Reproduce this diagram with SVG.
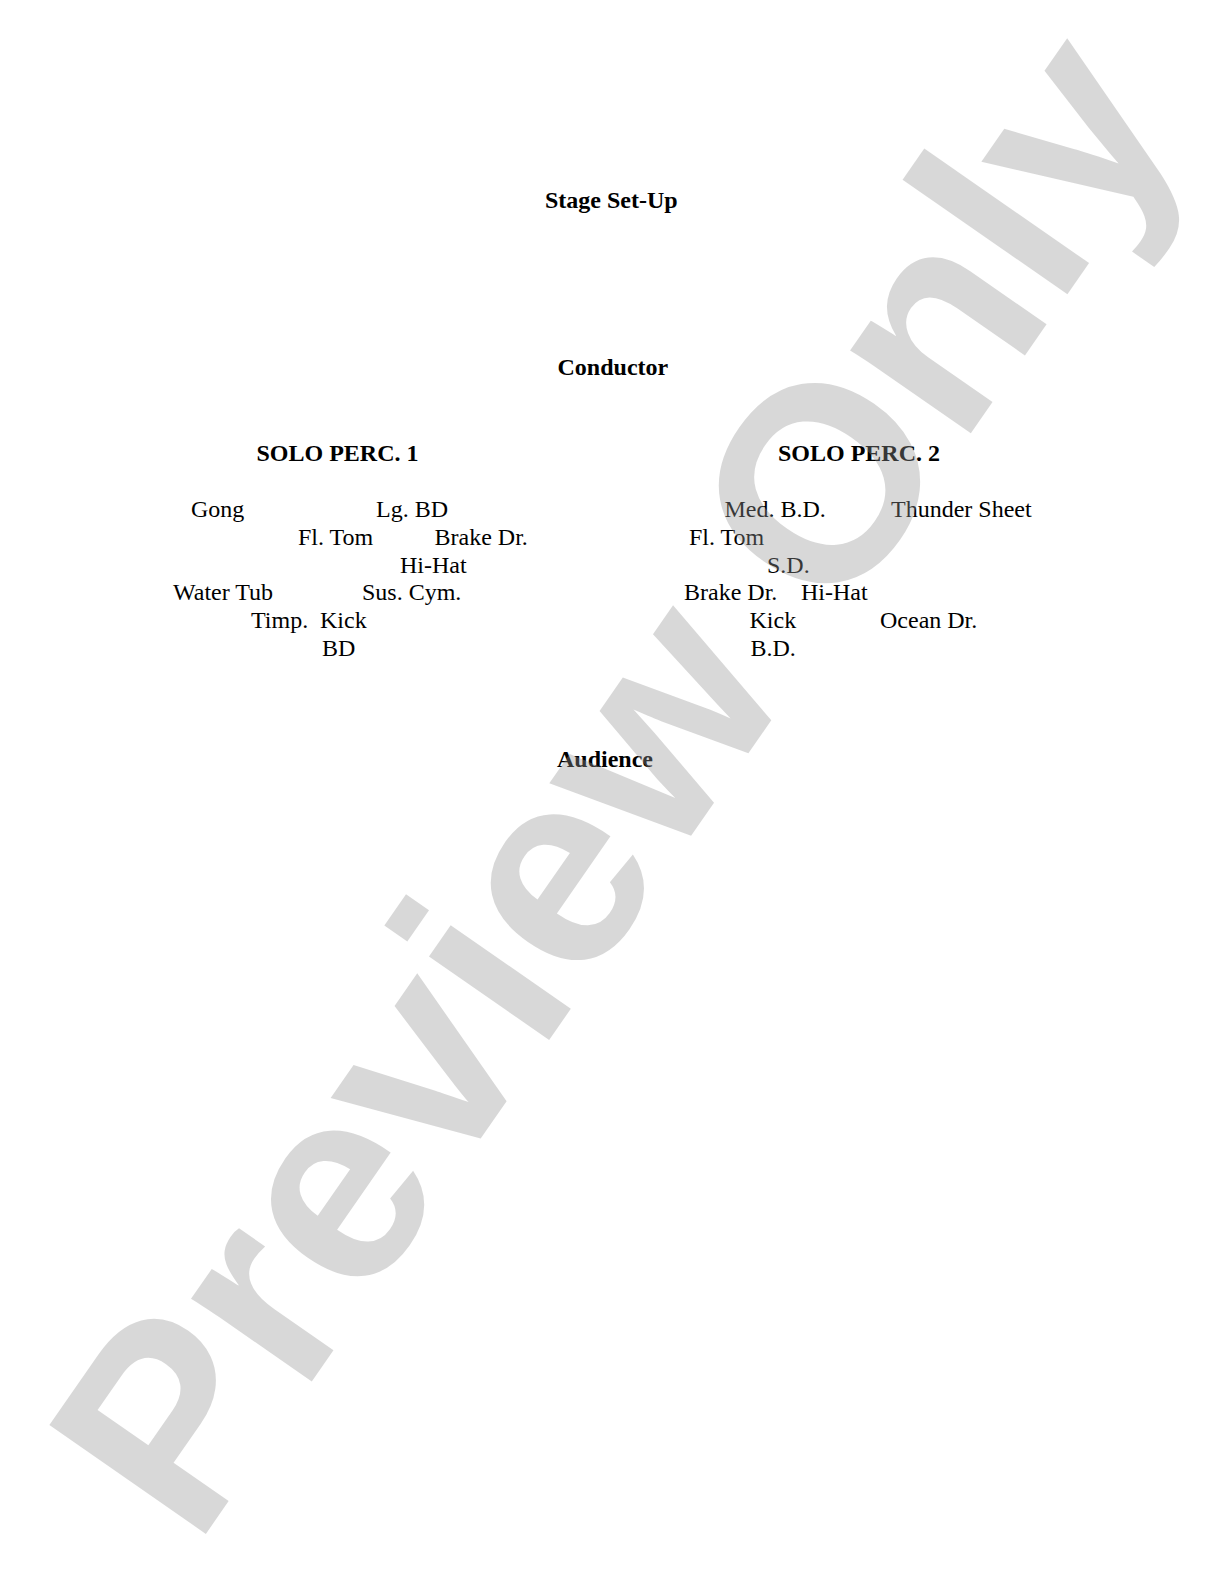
<svg xmlns="http://www.w3.org/2000/svg" width="1224" height="1584" viewBox="0 0 1224 1584">
  <style>
    .h { font-family: "Liberation Serif", "Times New Roman", serif; font-size: 24px; font-weight: bold; fill: #000; }
    .t { font-family: "Liberation Serif", "Times New Roman", serif; font-size: 24px; fill: #000; }
    .wm { font-family: "Liberation Sans", Arial, sans-serif; font-size: 277px; font-weight: bold; fill: rgb(150,150,150); fill-opacity: 0.37; }
  </style>
  <rect x="0" y="0" width="1224" height="1584" fill="#fff"/>
  <g id="title"><text class="h" x="545" y="208">Stage Set-Up</text></g>
  <g id="conductor"><text class="h" x="557.5" y="375">Conductor</text></g>
  <g id="solo-perc-1">
    <text class="h" x="256.5" y="460.5">SOLO PERC. 1</text>
    <g id="p1-gong"><text class="t" x="191" y="517">Gong</text></g>
    <g id="p1-lg-bd"><text class="t" x="376" y="517">Lg. BD</text></g>
    <g id="p1-fl-tom"><text class="t" x="298" y="545">Fl. Tom</text></g>
    <g id="p1-brake-dr"><text class="t" x="434.5" y="545">Brake Dr.</text></g>
    <g id="p1-hi-hat"><text class="t" x="400" y="572.5">Hi-Hat</text></g>
    <g id="p1-water-tub"><text class="t" x="173" y="600">Water Tub</text></g>
    <g id="p1-sus-cym"><text class="t" x="362" y="600">Sus. Cym.</text></g>
    <g id="p1-timp"><text class="t" x="251" y="628">Timp.</text></g>
    <g id="p1-kick-bd"><text class="t" x="320" y="628">Kick</text><text class="t" x="322" y="655.5">BD</text></g>
  </g>
  <g id="solo-perc-2">
    <text class="h" x="778" y="460.5">SOLO PERC. 2</text>
    <g id="p2-med-bd"><text class="t" x="724.5" y="517">Med. B.D.</text></g>
    <g id="p2-thunder-sheet"><text class="t" x="891" y="517">Thunder Sheet</text></g>
    <g id="p2-fl-tom"><text class="t" x="689" y="545">Fl. Tom</text></g>
    <g id="p2-sd"><text class="t" x="767" y="572.5">S.D.</text></g>
    <g id="p2-brake-dr"><text class="t" x="684" y="600">Brake Dr.</text></g>
    <g id="p2-hi-hat"><text class="t" x="801" y="600">Hi-Hat</text></g>
    <g id="p2-kick-bd"><text class="t" x="749.5" y="628">Kick</text><text class="t" x="750.5" y="655.5">B.D.</text></g>
    <g id="p2-ocean-dr"><text class="t" x="880" y="628">Ocean Dr.</text></g>
  </g>
  <g id="audience"><text class="h" x="557" y="767">Audience</text></g>
  <g id="connectors"/>
  <g id="watermark"><text class="wm" transform="translate(195.3,1549.1) rotate(-55.2)">Preview Only</text></g>
</svg>
